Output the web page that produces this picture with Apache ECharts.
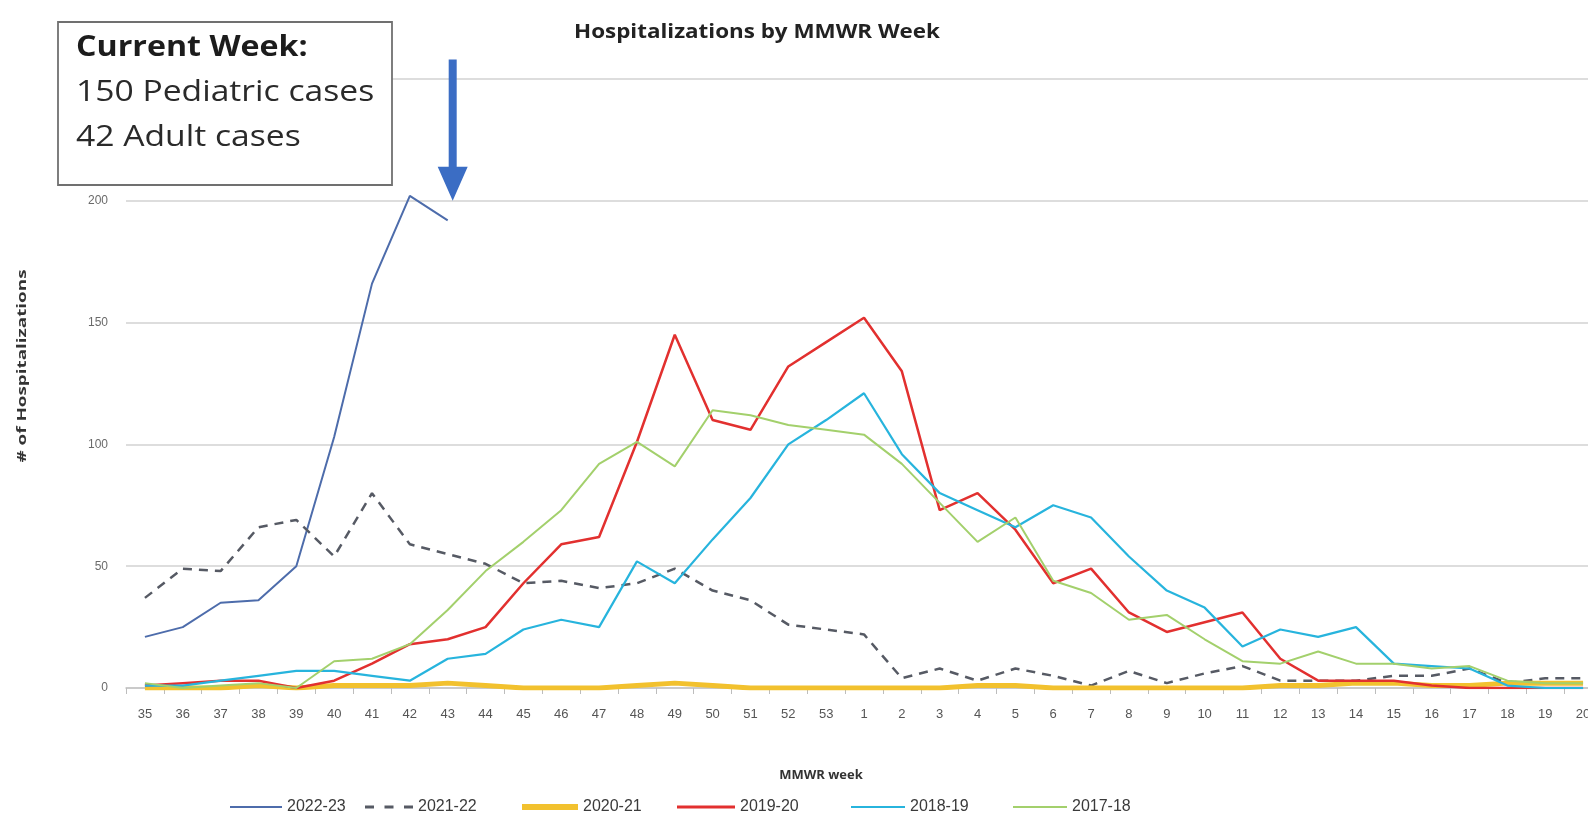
<!DOCTYPE html>
<html>
<head>
<meta charset="utf-8">
<title>Hospitalizations by MMWR Week</title>
<script src="https://cdn.jsdelivr.net/npm/echarts@6/dist/echarts.min.js"></script>
<style>
  html, body { margin: 0; padding: 0; background: #ffffff; overflow: hidden; }
  #chart { width: 1620px; height: 818px; }
</style>
</head>
<body>
<div id="chart"></div>
<script>
// MMWR weeks of the season, week 35 through week 20 of the following year
const weeks = ['35','36','37','38','39','40','41','42','43','44','45','46','47','48','49','50','51','52','53',
               '1','2','3','4','5','6','7','8','9','10','11','12','13','14','15','16','17','18','19','20'];

// Weekly hospitalizations per season
const season2223 = [21, 25, 35, 36, 50, 103, 166, 202, 192];
const season2122 = [37, 49, 48, 66, 69, 54, 80, 59, 55, 51, 43, 44, 41, 43, 49, 40, 36, 26, 24,
                    22, 4, 8, 3, 8, 5, 1, 7, 2, 6, 9, 3, 3, 3, 5, 5, 8, 2, 4, 4];
const season2021 = [0, 0, 0, 1, 0, 1, 1, 1, 2, 1, 0, 0, 0, 1, 2, 1, 0, 0, 0,
                    0, 0, 0, 1, 1, 0, 0, 0, 0, 0, 0, 1, 1, 2, 2, 1, 1, 2, 2, 2];
const season1920 = [1, 2, 3, 3, 0, 3, 10, 18, 20, 25, 43, 59, 62, 101, 145, 110, 106, 132, 142,
                    152, 130, 73, 80, 65, 43, 49, 31, 23, 27, 31, 12, 3, 3, 3, 1, 0, 0, 0, 0];
const season1819 = [1, 1, 3, 5, 7, 7, 5, 3, 12, 14, 24, 28, 25, 52, 43, 61, 78, 100, 110,
                    121, 96, 80, 73, 66, 75, 70, 54, 40, 33, 17, 24, 21, 25, 10, 9, 8, 1, 0, 0];
const season1718 = [2, 0, 1, 2, 0, 11, 12, 18, 32, 48, 60, 73, 92, 101, 91, 114, 112, 108, 106,
                    104, 92, 76, 60, 70, 44, 39, 28, 30, 20, 11, 10, 15, 10, 10, 8, 9, 3, 2, 2];

// Y axis ticks
const yMin = 0, yMax = 250, yStep = 50;

// Current-week note and pointer
const noteLines = ['Current Week:', '150 Pediatric cases', '42 Adult cases'];
const pointerWeek = '43';
const pointerFrom = 258, pointerTo = 200;

const seriesDefs = [
  { name: '2022-23', data: season2223, color: '#4d6cab', width: 2,   type: 'solid' },
  { name: '2021-22', data: season2122, color: '#565a64', width: 2.5, type: [9, 7] },
  { name: '2020-21', data: season2021, color: '#f2c12e', width: 5,   type: 'solid' },
  { name: '2019-20', data: season1920, color: '#e2302f', width: 2.5, type: 'solid' },
  { name: '2018-19', data: season1819, color: '#27b4dd', width: 2.2, type: 'solid' },
  { name: '2017-18', data: season1718, color: '#a3d06c', width: 2,   type: 'solid' }
];
// legend placement: left edge of each key, key length and key thickness
const legendLeft   = [225, 360, 517, 672, 846, 1008];
const legendWidth  = [52, 48, 56, 58, 54, 54];
const legendHeight = [2, 3, 6, 3, 2, 2];
// three short dashes, 16:1 so it fills a 48x3 key
const dashedKey = 'path://M0,0h3v1h-3z M6.5,0h3v1h-3z M13,0h3v1h-3z';

const narrow = '"Liberation Sans Narrow", "Liberation Sans", sans-serif';
const sans = '"Open Sans", "Liberation Sans", sans-serif';

const chart = echarts.init(document.getElementById('chart'));

const option = {
  backgroundColor: '#ffffff',
  animation: false,
  grid: { left: 126, right: 18, top: 79, bottom: 130, containLabel: false },
  legend: seriesDefs.map((s, i) => ({
    data: [{ name: s.name, icon: Array.isArray(s.type) ? dashedKey : 'rect' }],
    left: legendLeft[i],
    top: 794,
    itemWidth: legendWidth[i],
    itemHeight: legendHeight[i],
    itemStyle: { color: s.color, borderWidth: 0 },
    textStyle: { fontFamily: narrow, fontSize: 16, color: '#3a3a3a' }
  })),
  xAxis: {
    type: 'category',
    data: weeks,
    boundaryGap: true,
    axisLine: { lineStyle: { color: '#c4c4c4', width: 1.5 } },
    axisTick: { show: true, length: 6, lineStyle: { color: '#bdbdbd' } },
    axisLabel: { interval: 0, margin: 20, fontSize: 13, color: '#555', fontFamily: narrow }
  },
  yAxis: {
    type: 'value',
    min: yMin,
    max: yMax,
    interval: yStep,
    axisLine: { show: false },
    axisTick: { show: false },
    axisLabel: { margin: 18, fontSize: 12, color: '#6a6a6a', fontFamily: narrow },
    splitLine: { lineStyle: { color: '#d2d2d2', width: 1.5 } }
  },
  series: seriesDefs.map(s => ({
    name: s.name,
    type: 'line',
    data: s.data,
    symbol: 'none',
    smooth: false,
    color: s.color,
    lineStyle: { color: s.color, width: s.width, type: s.type },
    z: 2
  }))
};

chart.setOption(option);

// Pointer arrow placed from axis coordinates of the current week
const px = chart.convertToPixel({ xAxisIndex: 0 }, pointerWeek) + 5;
const pyTop = chart.convertToPixel({ yAxisIndex: 0 }, pointerFrom);
const pyTip = chart.convertToPixel({ yAxisIndex: 0 }, pointerTo);
const headH = 34, headW = 30, shaftW = 8;

chart.setOption({
  graphic: [
    {
      type: 'text', x: 757, y: 32, scaleX: 1.12, z: 10,
      style: { text: 'Hospitalizations by MMWR Week', align: 'center', verticalAlign: 'middle',
               font: 'bold 20px ' + sans, fill: '#222' }
    },
    {
      type: 'text', x: 22, y: 366, rotation: Math.PI / 2, scaleX: 1.45, z: 10,
      style: { text: '# of Hospitalizations', align: 'center', verticalAlign: 'middle',
               font: 'bold 13px ' + sans, fill: '#333' }
    },
    {
      type: 'text', x: 821, y: 775, z: 10,
      style: { text: 'MMWR week', align: 'center', verticalAlign: 'middle',
               font: 'bold 13px ' + sans, fill: '#333' }
    },
    {
      type: 'rect', z: 20,
      shape: { x: 58, y: 22, width: 334, height: 163 },
      style: { fill: '#ffffff', stroke: '#707070', lineWidth: 1.8 }
    },
    {
      type: 'text', x: 76, y: 48, scaleX: 1.11, z: 21,
      style: { text: noteLines[0], verticalAlign: 'middle', font: 'bold 29px ' + sans, fill: '#1c1c1c' }
    },
    {
      type: 'text', x: 76, y: 93, scaleX: 1.16, z: 21,
      style: { text: noteLines[1], verticalAlign: 'middle', font: '29px ' + sans, fill: '#2a2a2a' }
    },
    {
      type: 'text', x: 76, y: 138, scaleX: 1.16, z: 21,
      style: { text: noteLines[2], verticalAlign: 'middle', font: '29px ' + sans, fill: '#2a2a2a' }
    },
    {
      type: 'polygon', z: 22,
      shape: {
        points: [
          [px - shaftW / 2, pyTop], [px + shaftW / 2, pyTop],
          [px + shaftW / 2, pyTip - headH], [px + headW / 2, pyTip - headH],
          [px, pyTip], [px - headW / 2, pyTip - headH],
          [px - shaftW / 2, pyTip - headH]
        ]
      },
      style: { fill: '#3b6dc4' }
    }
  ]
});
</script>
</body>
</html>
